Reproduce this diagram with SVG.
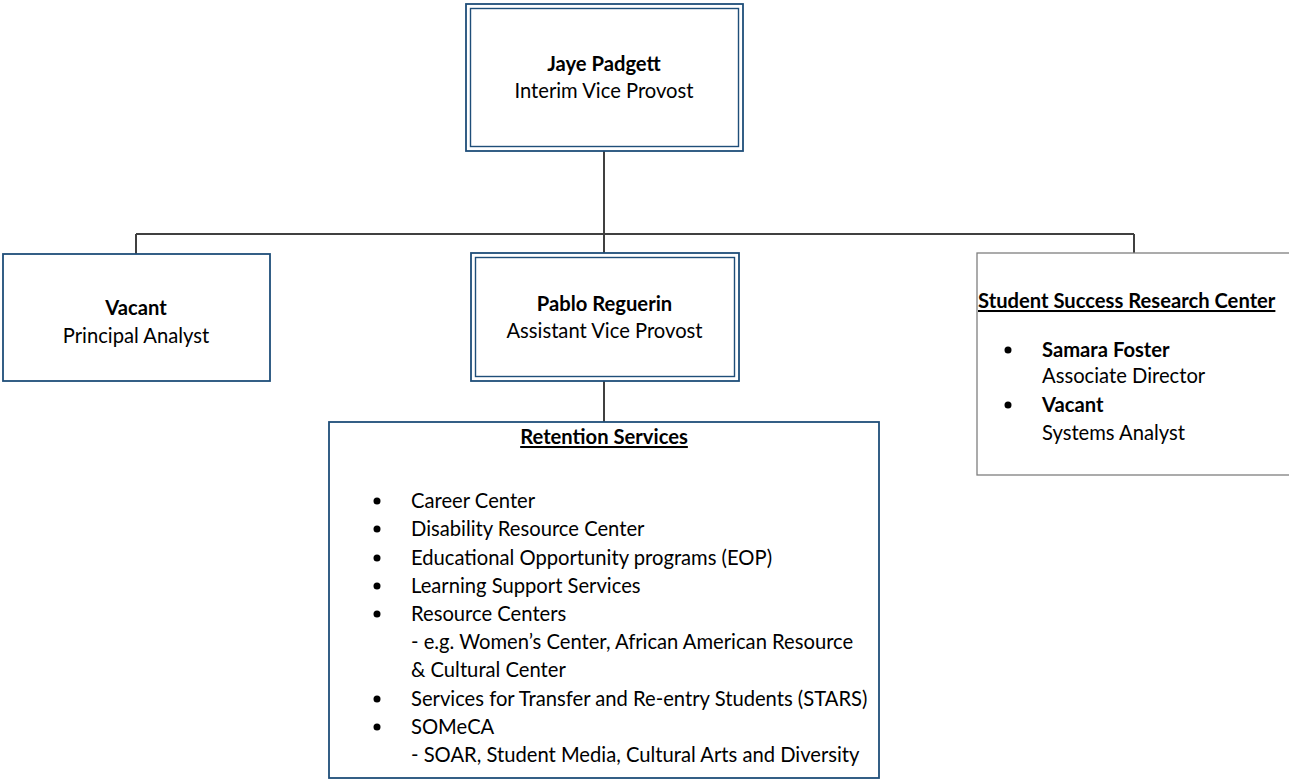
<svg xmlns="http://www.w3.org/2000/svg" width="1289" height="780" viewBox="0 0 1289 780">
<style>
text{font-family:Lato,"Open Sans","Liberation Sans",sans-serif;font-size:20.2px;fill:#000}
.b{font-weight:bold}
.c{text-anchor:middle}
.u{text-decoration:underline}
.blue{fill:#fff;stroke:#1F4E79;stroke-width:1.8}
.thin{fill:none;stroke:#1F4E79;stroke-width:1.4}
.gray{fill:#fff;stroke:#7F7F7F;stroke-width:1.3}
.conn{fill:none;stroke:#404040;stroke-width:2}
.bul{fill:#000}
</style>
<rect width="1289" height="780" fill="#fff"/>
<g id="connectors">
<path class="conn" d="M604 151V381"/>
<path class="conn" d="M136 234H1134"/>
<path class="conn" d="M136 234V254"/>
<path class="conn" d="M1134 234V253"/>
<path class="conn" d="M604 381V422"/>
</g>
<g id="jaye">
<rect class="blue" x="466" y="4" width="277" height="147"/>
<rect class="thin" x="470.5" y="8.5" width="268" height="138"/>
<text class="b c" x="604" y="71">Jaye Padgett</text>
<text class="c" x="604" y="98">Interim Vice Provost</text>
</g>
<g id="principal">
<rect class="blue" x="3" y="254" width="267" height="127"/>
<text class="b c" x="136" y="315">Vacant</text>
<text class="c" x="136" y="343">Principal Analyst</text>
</g>
<g id="pablo">
<rect class="blue" x="471" y="253" width="268" height="128"/>
<rect class="thin" x="475.5" y="257.5" width="259" height="119"/>
<text class="b c" x="604.5" y="311">Pablo Reguerin</text>
<text class="c" x="604.5" y="338">Assistant Vice Provost</text>
</g>
<g id="ssrc">
<rect class="gray" x="977" y="253" width="330" height="222"/>
<text class="b u" x="978" y="308">Student Success Research Center</text>
<circle class="bul" cx="1008" cy="350" r="3.5"/>
<text class="b" x="1042" y="357">Samara Foster</text>
<text x="1042" y="383">Associate Director</text>
<circle class="bul" cx="1008" cy="405" r="3.5"/>
<text class="b" x="1042" y="412">Vacant</text>
<text x="1042" y="440">Systems Analyst</text>
</g>
<g id="retention">
<rect class="blue" x="329" y="422" width="550" height="356"/>
<text class="b c u" x="604" y="444">Retention Services</text>
<circle class="bul" cx="377" cy="501" r="3.5"/>
<text x="411" y="508">Career Center</text>
<circle class="bul" cx="377" cy="529" r="3.5"/>
<text x="411" y="536">Disability Resource Center</text>
<circle class="bul" cx="377" cy="558" r="3.5"/>
<text x="411" y="565">Educational Opportunity programs (EOP)</text>
<circle class="bul" cx="377" cy="586" r="3.5"/>
<text x="411" y="593">Learning Support Services</text>
<circle class="bul" cx="377" cy="614" r="3.5"/>
<text x="411" y="621">Resource Centers</text>
<text x="411" y="649">- e.g. Women’s Center, African American Resource</text>
<text x="411" y="677">&amp; Cultural Center</text>
<circle class="bul" cx="377" cy="699" r="3.5"/>
<text x="411" y="706">Services for Transfer and Re-entry Students (STARS)</text>
<circle class="bul" cx="377" cy="727" r="3.5"/>
<text x="411" y="734">SOMeCA</text>
<text x="411" y="762">- SOAR, Student Media, Cultural Arts and Diversity</text>
</g>
</svg>
